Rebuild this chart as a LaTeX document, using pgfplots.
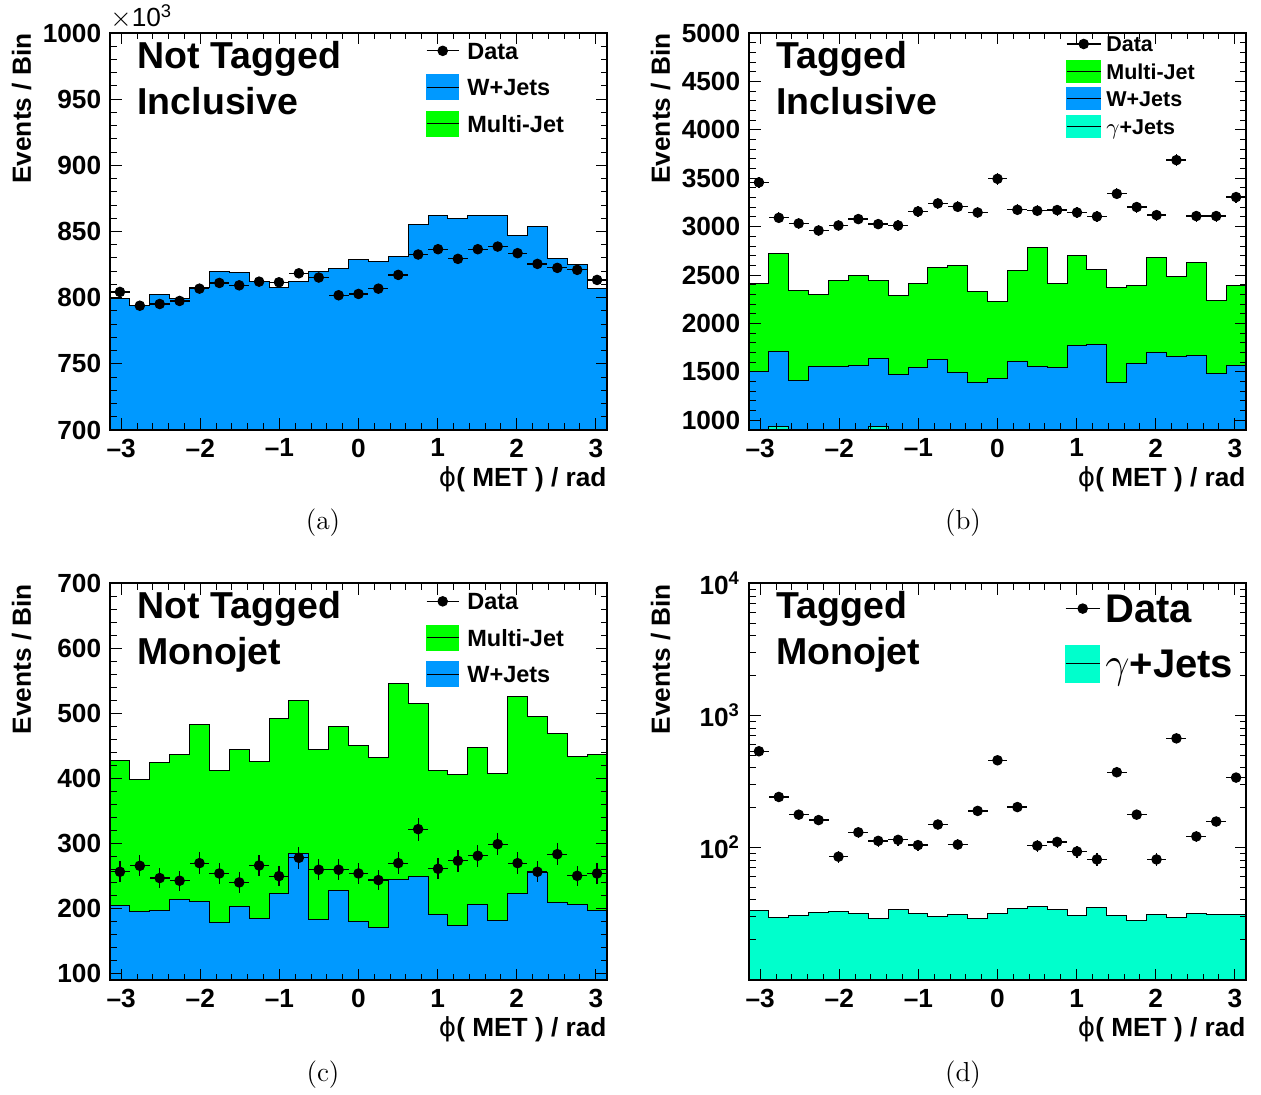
\documentclass[border=0pt]{standalone}
\usepackage{fontspec}
\setsansfont{Liberation Sans}
\newfontfamily\dejavu{DejaVu Sans}
\usepackage{pgfplots}
\usepackage{pgfplotstable}
\pgfplotsset{compat=1.18}

\definecolor{wblue}{RGB}{0,153,255}
\definecolor{mjgreen}{RGB}{0,255,0}
\definecolor{gjcyan}{RGB}{0,255,204}

\newcommand{\hv}[1]{\fontsize{#1}{#1}\selectfont\sffamily\bfseries}

% Panel (a): Not Tagged, Inclusive (values in 10^3)
\pgfplotstableread{
x c ex w d ey
-3.14159 -3.01593 0.12566 799.7 804.3 0.9
-2.89027 -2.76460 0.12566 794.2 793.9 0.9
-2.63894 -2.51327 0.12566 802.3 795.2 0.9
-2.38761 -2.26195 0.12566 799.0 797.5 0.9
-2.13628 -2.01062 0.12566 807.3 806.8 0.9
-1.88496 -1.75929 0.12566 819.4 811.1 0.9
-1.63363 -1.50796 0.12566 819.2 809.3 0.9
-1.38230 -1.25664 0.12566 812.4 812.1 0.9
-1.13097 -1.00531 0.12566 807.8 811.6 0.9
-0.87965 -0.75398 0.12566 811.9 818.4 0.9
-0.62832 -0.50265 0.12566 819.7 815.2 0.9
-0.37699 -0.25133 0.12566 822.0 801.8 0.9
-0.12566 0.00000 0.12566 828.8 802.8 0.9
0.12566 0.25133 0.12566 827.3 806.8 0.9
0.37699 0.50265 0.12566 831.1 817.2 0.9
0.62832 0.75398 0.12566 855.3 832.6 0.9
0.87965 1.00531 0.12566 861.9 836.6 0.9
1.13097 1.25664 0.12566 859.6 829.3 0.9
1.38230 1.50796 0.12566 862.4 836.6 0.9
1.63363 1.75929 0.12566 861.9 838.6 0.9
1.88496 2.01062 0.12566 847.0 833.6 0.9
2.13628 2.26195 0.12566 853.5 825.5 0.9
2.38761 2.51327 0.12566 829.5 822.5 0.9
2.63894 2.76460 0.12566 825.3 821.0 0.9
2.89027 3.01593 0.12566 806.8 813.4 0.9
3.14159 3.26726 0.12566 806.8 813.4 0.9
}\tabA

% Panel (b): Tagged, Inclusive
\pgfplotstableread{
x c ex tot wg g d ey
-3.14159 -3.01593 0.12566 2416 1500 850 3457 59
-2.89027 -2.76460 0.12566 2723 1710 940 3091 56
-2.63894 -2.51327 0.12566 2337 1414 850 3033 55
-2.38761 -2.26195 0.12566 2302 1555 850 2960 54
-2.13628 -2.01062 0.12566 2444 1555 850 3012 55
-1.88496 -1.75929 0.12566 2499 1562 850 3078 55
-1.63363 -1.50796 0.12566 2444 1637 935 3026 55
-1.38230 -1.25664 0.12566 2285 1469 850 3012 55
-1.13097 -1.00531 0.12566 2409 1544 850 3157 56
-0.87965 -0.75398 0.12566 2575 1630 850 3240 57
-0.62832 -0.50265 0.12566 2602 1496 850 3205 57
-0.37699 -0.25133 0.12566 2326 1389 850 3146 56
-0.12566 0.00000 0.12566 2230 1427 850 3494 59
0.12566 0.25133 0.12566 2550 1610 850 3174 56
0.37699 0.50265 0.12566 2781 1558 850 3164 56
0.62832 0.75398 0.12566 2416 1541 850 3171 56
0.87965 1.00531 0.12566 2699 1768 850 3146 56
1.13097 1.25664 0.12566 2561 1782 905 3105 56
1.38230 1.50796 0.12566 2371 1389 850 3339 58
1.63363 1.75929 0.12566 2388 1589 850 3202 57
1.88496 2.01062 0.12566 2681 1699 850 3119 56
2.13628 2.26195 0.12566 2485 1655 850 3687 61
2.38761 2.51327 0.12566 2630 1665 850 3109 56
2.63894 2.76460 0.12566 2237 1486 850 3109 56
2.89027 3.01593 0.12566 2388 1562 850 3305 57
3.14159 3.26726 0.12566 2388 1562 850 3305 57
}\tabB

% Panel (c): Not Tagged, Monojet
\pgfplotstableread{
x c ex tot w d ey
-3.14159 -3.01593 0.12566 426.9 205.1 256.3 16.0
-2.89027 -2.76460 0.12566 398.2 195.3 265.5 16.3
-2.63894 -2.51327 0.12566 424.9 196.3 246.6 15.7
-2.38761 -2.26195 0.12566 436.1 213.2 242.5 15.6
-2.13628 -2.01062 0.12566 482.2 210.7 269.6 16.4
-1.88496 -1.75929 0.12566 412.0 178.4 253.7 15.9
-1.63363 -1.50796 0.12566 444.8 202.5 239.9 15.5
-1.38230 -1.25664 0.12566 425.9 184.0 266.0 16.3
-1.13097 -1.00531 0.12566 492.5 222.5 249.6 15.8
-0.87965 -0.75398 0.12566 520.2 285.0 277.8 16.7
-0.62832 -0.50265 0.12566 444.3 183.0 259.4 16.1
-0.37699 -0.25133 0.12566 479.7 227.1 259.4 16.1
-0.12566 0.00000 0.12566 450.0 180.5 253.7 15.9
0.12566 0.25133 0.12566 432.0 170.2 243.5 15.6
0.37699 0.50265 0.12566 546.3 244.0 269.6 16.4
0.62832 0.75398 0.12566 515.5 248.6 321.9 17.9
0.87965 1.00531 0.12566 411.5 190.7 260.9 16.2
1.13097 1.25664 0.12566 406.4 174.3 273.2 16.5
1.38230 1.50796 0.12566 447.9 206.6 280.9 16.8
1.63363 1.75929 0.12566 407.4 181.0 298.8 17.3
1.88496 2.01062 0.12566 526.8 223.0 269.6 16.4
2.13628 2.26195 0.12566 495.0 255.8 256.3 16.0
2.38761 2.51327 0.12566 469.4 208.6 283.4 16.8
2.63894 2.76460 0.12566 434.1 206.6 250.1 15.8
2.89027 3.01593 0.12566 436.6 196.8 253.7 15.9
3.14159 3.26726 0.12566 436.6 196.8 253.7 15.9
}\tabC

% Panel (d): Tagged, Monojet
\pgfplotstableread{
x c ex g d ey
-3.14159 -3.01593 0.12566 33.0 535 23.1
-2.89027 -2.76460 0.12566 29.4 241 15.5
-2.63894 -2.51327 0.12566 30.4 177 13.3
-2.38761 -2.26195 0.12566 32.1 161 12.7
-2.13628 -2.01062 0.12566 32.8 85 9.2
-1.88496 -1.75929 0.12566 31.7 130 11.4
-1.63363 -1.50796 0.12566 29.1 112 10.6
-1.38230 -1.25664 0.12566 33.6 114 10.7
-1.13097 -1.00531 0.12566 31.3 104 10.2
-0.87965 -0.75398 0.12566 29.9 149 12.2
-0.62832 -0.50265 0.12566 31.0 105 10.2
-0.37699 -0.25133 0.12566 28.7 189 13.7
-0.12566 0.00000 0.12566 31.7 457 21.4
0.12566 0.25133 0.12566 34.6 202 14.2
0.37699 0.50265 0.12566 35.4 103 10.1
0.62832 0.75398 0.12566 33.8 110 10.5
0.87965 1.00531 0.12566 30.6 93 9.6
1.13097 1.25664 0.12566 35.0 81 9.0
1.38230 1.50796 0.12566 30.2 371 19.3
1.63363 1.75929 0.12566 27.9 177 13.3
1.88496 2.01062 0.12566 31.0 81 9.0
2.13628 2.26195 0.12566 29.2 670 25.9
2.38761 2.51327 0.12566 31.4 121 11.0
2.63894 2.76460 0.12566 31.0 157 12.5
2.89027 3.01593 0.12566 30.8 338 18.4
3.14159 3.26726 0.12566 30.8 338 18.4
}\tabD

\pgfplotsset{
  rootaxis/.style={
    scale only axis, width=198.8pt, height=158.8pt,
    anchor=south west,
    xmin=-3.14159, xmax=3.14159,
    xtick={-3,-2,-1,0,1,2,3},
    xticklabels={\textendash3,\textendash2,\textendash1,0,1,2,3},
    minor x tick num=4,
    minor y tick num=4,
    tick align=inside, tick pos=both,
    major tick length=4.6pt, minor tick length=2.6pt,
    every tick/.append style={black, line width=0.4pt},
    axis line style={line width=0.8pt},
    ticklabel style={font=\hv{10.5}},
    /pgf/number format/assume math mode=true,
    /pgf/number format/1000 sep={},
    scaled y ticks=false,
    clip mode=individual,
    axis on top,
    legend cell align=left,
  },
  hist/.style={const plot mark left, draw=black, line width=0.4pt, forget plot},
  datapts/.style={only marks, mark=*, mark size=1.9pt, black, forget plot,
    error bars/x dir=both, error bars/x explicit,
    error bars/y dir=both, error bars/y explicit,
    error bars/error mark=none,
    error bars/error bar style={line width=0.5pt, black}},
  boxleg/.style n args={3}{legend image code/.code={
      \fill[#1] (0pt,-#3) rectangle (#2,#3);
      \draw[black,line width=0.4pt] (0pt,0pt)--(#2,0pt);}},
  dataleg/.style 2 args={legend image code/.code={
      \draw[black,line width=0.5pt] (0pt,0pt)--(#1,0pt);
      \fill[black] (0.5*#1,0pt) circle (#2);}},
  legA/.style={legend style={draw=none, fill=none, inner sep=0pt, outer sep=0pt,
      at={(0.636,1)}, anchor=north west, yshift=-1.8pt,
      font=\hv{9.4}, nodes={inner sep=0pt, text height=8.7pt, text depth=2pt},
      row sep=3.9pt, column sep=3.2pt}},
}

\newcommand{\paneltitle}[2]{%
  \node[anchor=base west, font=\hv{15}, inner sep=0pt] at ([xshift=10.8pt,yshift=-14.2pt]rel axis cs:0,1) {#1};
  \node[anchor=base west, font=\hv{15}, inner sep=0pt] at ([xshift=10.8pt,yshift=-32.6pt]rel axis cs:0,1) {#2};
  \node[rotate=90, anchor=south east, font=\hv{10.5}, inner sep=0pt] at ([xshift=-31.2pt]rel axis cs:0,1) {Events / Bin};
  \node[anchor=base east, font=\hv{10.5}, inner sep=0pt] at ([yshift=-22.6pt]rel axis cs:1,0) {{\dejavu\mdseries ϕ}( MET ) / rad};
}

\begin{document}
\begin{tikzpicture}
\useasboundingbox (0,0) rectangle (504.4pt,438pt);

% ---------------- (a)
\begin{axis}[rootaxis, at={(44pt,266pt)},
  ymin=700, ymax=1000, ytick={700,750,...,1000}, legA]
\addlegendimage{dataleg={12.8pt}{1.9pt}}
\addlegendentry{Data}
\addlegendimage{boxleg={wblue}{12.8pt}{5pt}}
\addlegendentry{W+Jets}
\addlegendimage{boxleg={mjgreen}{12.8pt}{5pt}}
\addlegendentry{Multi-Jet}
\addplot[hist, fill=wblue] table[x=x, y=w] {\tabA} \closedcycle;
\addplot[datapts] table[x=c, y=d, x error=ex, y error=ey, skip coords between index={25}{26}] {\tabA};
\paneltitle{Not Tagged}{Inclusive}
\node[anchor=base west, font=\fontsize{10.5}{10.5}\selectfont\sffamily, inner sep=0pt] at ([yshift=2.4pt]rel axis cs:0,1) {$\times$10\textsuperscript{3}};
\end{axis}

% ---------------- (b)
\begin{axis}[rootaxis, at={(299.6pt,266pt)},
  ymin=900, ymax=5000, ytick={1000,1500,...,5000},
  legend style={draw=none, fill=none, inner sep=0pt, outer sep=0pt,
      at={(0.638,1)}, anchor=north west, yshift=0.5pt,
      font=\hv{8.6}, nodes={inner sep=0pt, text height=8pt, text depth=1.8pt},
      row sep=1.2pt, column sep=2pt}]
\addlegendimage{dataleg={13.6pt}{1.9pt}}
\addlegendentry{Data}
\addlegendimage{boxleg={mjgreen}{13.6pt}{4.4pt}}
\addlegendentry{Multi-Jet}
\addlegendimage{boxleg={wblue}{13.6pt}{4.4pt}}
\addlegendentry{W+Jets}
\addlegendimage{boxleg={gjcyan}{13.6pt}{4.4pt}}
\addlegendentry{$\gamma$+Jets}
\addplot[hist, fill=mjgreen] table[x=x, y=tot] {\tabB} \closedcycle;
\addplot[hist, fill=wblue] table[x=x, y=wg] {\tabB} \closedcycle;
\addplot[hist, fill=gjcyan] table[x=x, y=g] {\tabB} \closedcycle;
\addplot[datapts] table[x=c, y=d, x error=ex, y error=ey, skip coords between index={25}{26}] {\tabB};
\paneltitle{Tagged}{Inclusive}
\end{axis}

% ---------------- (c)
\begin{axis}[rootaxis, at={(44pt,45.8pt)},
  ymin=89, ymax=700, ytick={100,200,...,700}, legA]
\addlegendimage{dataleg={12.8pt}{1.9pt}}
\addlegendentry{Data}
\addlegendimage{boxleg={mjgreen}{12.8pt}{5pt}}
\addlegendentry{Multi-Jet}
\addlegendimage{boxleg={wblue}{12.8pt}{5pt}}
\addlegendentry{W+Jets}
\addplot[hist, fill=mjgreen] table[x=x, y=tot] {\tabC} \closedcycle;
\addplot[hist, fill=wblue] table[x=x, y=w] {\tabC} \closedcycle;
\addplot[datapts] table[x=c, y=d, x error=ex, y error=ey, skip coords between index={25}{26}] {\tabC};
\paneltitle{Not Tagged}{Monojet}
\end{axis}

% ---------------- (d)
\begin{axis}[rootaxis, at={(299.6pt,45.8pt)},
  ymode=log, ymin=9.8, ymax=10000, ytick={100,1000,10000},
  yticklabels={10\textsuperscript{2},10\textsuperscript{3},10\textsuperscript{4}},
  minor ytick={20,30,40,50,60,70,80,90,200,300,400,500,600,700,800,900,2000,3000,4000,5000,6000,7000,8000,9000},
  legend style={draw=none, fill=none, inner sep=0pt, outer sep=0pt,
      at={(0.636,1)}, anchor=north west, yshift=-0.8pt,
      font=\hv{16}, nodes={inner sep=0pt, text height=15pt, text depth=3.5pt},
      row sep=3.5pt, column sep=2pt}]
\addlegendimage{dataleg={13.6pt}{1.9pt}}
\addlegendentry{Data}
\addlegendimage{boxleg={gjcyan}{13.6pt}{7.4pt}}
\addlegendentry{$\gamma$+Jets}
\addplot[hist, fill=gjcyan] table[x=x, y=g] {\tabD} \closedcycle;
\addplot[datapts] table[x=c, y=d, x error=ex, y error=ey, skip coords between index={25}{26}] {\tabD};
\paneltitle{Tagged}{Monojet}
\end{axis}

% captions
\node[font=\fontsize{11}{13}\selectfont] at (129.2pt,228.8pt) {(a)};
\node[font=\fontsize{11}{13}\selectfont] at (385.2pt,228.8pt) {(b)};
\node[font=\fontsize{11}{13}\selectfont] at (129.2pt,8pt) {(c)};
\node[font=\fontsize{11}{13}\selectfont] at (385.2pt,8pt) {(d)};
\end{tikzpicture}
\end{document}
